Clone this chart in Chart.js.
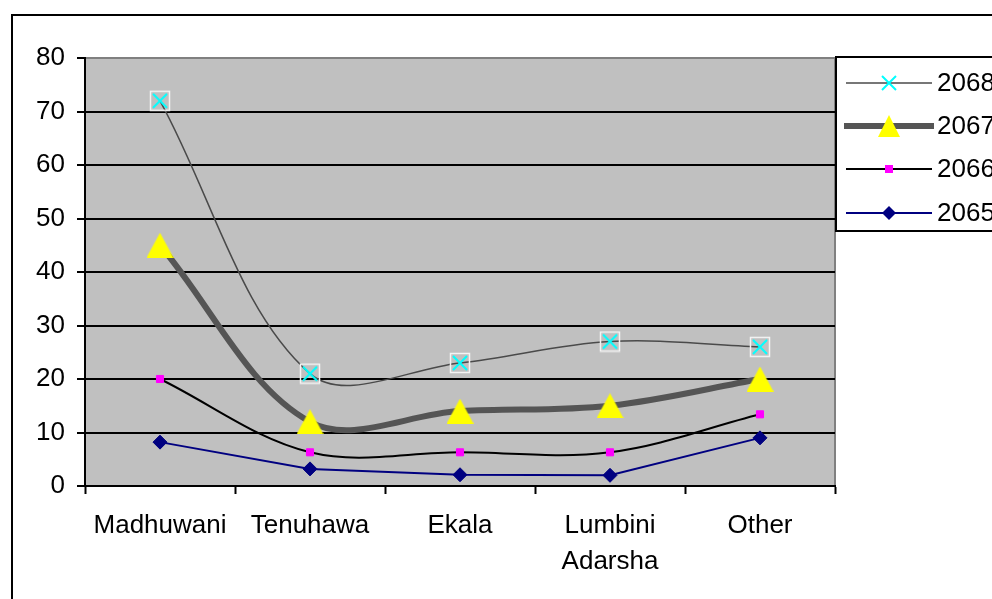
<!DOCTYPE html>
<html>
<head>
<meta charset="utf-8">
<script src="https://cdn.jsdelivr.net/npm/chart.js@4.4.0/dist/chart.umd.min.js"></script>
<style>
  html, body { margin: 0; padding: 0; background: #fff; }
  canvas { display: block; }
</style>
</head>
<body>
<canvas id="myChart" width="992" height="599"></canvas>
<script>
// categories and series values
const categories = ['Madhuwani', 'Tenuhawa', 'Ekala', ['Lumbini', 'Adarsha'], 'Other'];
const seriesNames = ['2068', '2067', '2066', '2065'];
const values2068 = [72, 21, 23, 27, 26];
const values2067 = [45, 12, 14, 15, 20];
const values2066 = [20, 6.3, 6.3, 6.3, 13.4];
const values2065 = [8.2, 3.2, 2.1, 2, 9];
const yTicks = [0, 10, 20, 30, 40, 50, 60, 70, 80];

const FONT = '"Liberation Sans", Arial, sans-serif';

// marker for 2068: cyan x inside a light square
function makeXMarker(withBox) {
  var c = document.createElement('canvas');
  c.width = 22; c.height = 22;
  var g = c.getContext('2d');
  if (withBox) {
    g.strokeStyle = '#F4F4F4';
    g.lineWidth = 1.5;
    g.strokeRect(1.5, 1.5, 19, 19);
  }
  g.strokeStyle = '#00FFFF';
  g.lineWidth = 2;
  g.beginPath();
  g.moveTo(4, 4); g.lineTo(18, 18);
  g.moveTo(18, 4); g.lineTo(4, 18);
  g.stroke();
  return c;
}
// yellow triangle centred on its box, like excel
function makeTriangle(w, h) {
  var c = document.createElement('canvas');
  c.width = w; c.height = h;
  var g = c.getContext('2d');
  g.fillStyle = '#FFFF00';
  g.beginPath();
  g.moveTo(w / 2, 0);
  g.lineTo(w, h);
  g.lineTo(0, h);
  g.closePath();
  g.fill();
  return c;
}
var xMarkBox = makeXMarker(true);
var xMark = makeXMarker(false);
var triBig = makeTriangle(27, 25);
var triSmall = makeTriangle(22, 22);

const data = {
  labels: categories,
  datasets: [
    {
      label: seriesNames[0],
      data: values2068,
      borderColor: '#4A4A4A',
      borderWidth: 1.5,
      pointStyle: xMarkBox,
      tension: 0.35
    },
    {
      label: seriesNames[1],
      data: values2067,
      borderColor: '#555555',
      borderWidth: 6,
      pointStyle: triBig,
      tension: 0.35
    },
    {
      label: seriesNames[2],
      data: values2066,
      borderColor: '#000000',
      borderWidth: 2,
      pointStyle: 'rect',
      pointRadius: 5,
      pointBackgroundColor: '#FF00FF',
      pointBorderColor: '#FF00FF',
      pointBorderWidth: 1,
      tension: 0.35
    },
    {
      label: seriesNames[3],
      data: values2065,
      borderColor: '#000080',
      borderWidth: 2,
      pointStyle: 'rectRot',
      pointRadius: 7,
      pointBackgroundColor: '#000080',
      pointBorderColor: '#000080',
      pointBorderWidth: 1,
      tension: 0
    }
  ]
};

// gray plot area, outer frame
const backdrop = {
  id: 'backdrop',
  beforeDraw(chart) {
    const ctx = chart.ctx, a = chart.chartArea;
    ctx.save();
    ctx.fillStyle = '#fff';
    ctx.fillRect(0, 0, chart.width, chart.height);
    ctx.strokeStyle = '#000';
    ctx.lineWidth = 2;
    ctx.strokeRect(12, 15, 1100, 700);
    ctx.fillStyle = '#C0C0C0';
    ctx.fillRect(a.left, a.top, a.right - a.left, a.bottom - a.top);
    ctx.strokeStyle = '#808080';
    ctx.lineWidth = 2;
    ctx.beginPath();
    ctx.moveTo(a.right, a.top);
    ctx.lineTo(a.right, a.bottom);
    ctx.stroke();
    ctx.restore();
  }
};

// legend box on the right
const boxLegend = {
  id: 'boxLegend',
  afterDraw(chart) {
    const ctx = chart.ctx;
    const bx = 836, by = 57, bw = 200, bh = 174;
    ctx.save();
    ctx.fillStyle = '#fff';
    ctx.fillRect(bx, by, bw, bh);
    ctx.strokeStyle = '#000';
    ctx.lineWidth = 2;
    ctx.strokeRect(bx, by, bw, bh);
    const rows = [83, 126, 169, 213];
    chart.data.datasets.forEach((ds, i) => {
      const y = rows[i];
      ctx.strokeStyle = ds.borderColor;
      ctx.lineWidth = ds.borderWidth;
      ctx.beginPath();
      ctx.moveTo(i === 1 ? 844 : 846, y);
      ctx.lineTo(i === 1 ? 934 : 932, y);
      ctx.stroke();
      const cx = 889;
      if (i === 0) {
        ctx.drawImage(xMark, cx - 11, y - 11);
      } else if (i === 1) {
        ctx.drawImage(triSmall, cx - 11, y - 11);
      } else if (i === 2) {
        ctx.fillStyle = '#FF00FF';
        ctx.fillRect(cx - 4, y - 4, 8, 8);
      } else {
        ctx.fillStyle = '#000080';
        ctx.beginPath();
        ctx.moveTo(cx, y - 7);
        ctx.lineTo(cx + 7, y);
        ctx.lineTo(cx, y + 7);
        ctx.lineTo(cx - 7, y);
        ctx.closePath();
        ctx.fill();
      }
      ctx.fillStyle = '#000';
      ctx.font = '26px ' + FONT;
      ctx.textBaseline = 'middle';
      ctx.textAlign = 'left';
      ctx.fillText(ds.label, 937, y + 1);
    });
    ctx.restore();
  }
};

const config = {
  type: 'line',
  data: data,
  plugins: [backdrop, boxLegend],
  options: {
    responsive: false,
    animation: false,
    layout: { padding: { top: 58, right: 157, left: 0, bottom: 0 } },
    plugins: {
      legend: { display: false },
      tooltip: { enabled: false }
    },
    scales: {
      x: {
        offset: true,
        grid: {
          offset: true,
          drawOnChartArea: false,
          drawTicks: true,
          tickLength: 8,
          tickColor: '#000',
          tickWidth: 2
        },
        border: { display: true, color: '#000', width: 2 },
        ticks: {
          color: '#000',
          font: { family: FONT, size: 26, lineHeight: 1.38 },
          padding: 14,
          maxRotation: 0,
          autoSkip: false
        },
        afterFit(scale) { scale.height = 113; }
      },
      y: {
        min: 0,
        max: 80,
        afterBuildTicks(scale) { scale.ticks = yTicks.map(v => ({ value: v })); },
        grid: {
          color: ctx => (ctx.tick && ctx.tick.value === 80 ? '#808080' : '#000'),
          lineWidth: 2,
          drawTicks: true,
          tickLength: 8,
          tickColor: '#000',
          tickWidth: 2
        },
        border: { display: true, color: '#000', width: 2 },
        ticks: {
          color: '#000',
          font: { family: FONT, size: 26 },
          padding: 12
        },
        afterFit(scale) { scale.width = 85; }
      }
    }
  }
};

const myChart = new Chart(document.getElementById('myChart'), config);
</script>
</body>
</html>
